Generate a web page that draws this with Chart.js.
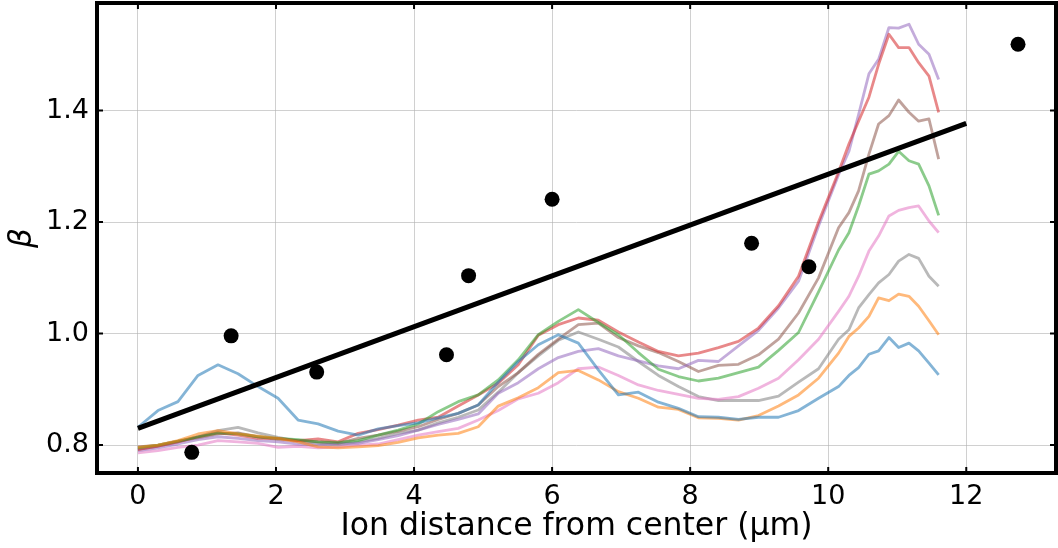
<!DOCTYPE html>
<html>
<head>
<meta charset="utf-8">
<script src="https://cdn.jsdelivr.net/npm/chart.js@4.4.0/dist/chart.umd.min.js"></script>
<style>
  html, body { margin: 0; padding: 0; background: #fff; }
</style>
</head>
<body>
<canvas id="chart" width="1058" height="548"></canvas>
<script>
// Shared x positions of the profile curves (um)
const xs = [0, 0.29, 0.58, 0.87, 1.16, 1.45, 1.74, 2.03, 2.32, 2.61, 2.9, 3.19, 3.48, 3.77, 4.06, 4.35,
  4.64, 4.93, 5.22, 5.51, 5.8, 6.09, 6.38, 6.67, 6.96, 7.25, 7.54, 7.83, 8.12, 8.41, 8.7, 8.99,
  9.28, 9.57, 9.86, 10.15, 10.3, 10.44, 10.59, 10.73, 10.88, 11.02, 11.17, 11.31, 11.46, 11.6];

// Profile curves
const blueY = [0.832, 0.862, 0.878, 0.925, 0.944, 0.928, 0.905, 0.884, 0.845, 0.838, 0.825, 0.818, 0.829, 0.835, 0.840, 0.849,
  0.857, 0.872, 0.913, 0.950, 0.980, 0.998, 0.983, 0.935, 0.890, 0.895, 0.877, 0.866, 0.851, 0.850, 0.846, 0.850,
  0.850, 0.862, 0.884, 0.905, 0.925, 0.939, 0.963, 0.969, 0.993, 0.975, 0.983, 0.969, 0.947, 0.926];
const orangeY = [0.796, 0.800, 0.808, 0.820, 0.826, 0.820, 0.816, 0.812, 0.806, 0.797, 0.795, 0.797, 0.799, 0.805, 0.813, 0.818,
  0.821, 0.833, 0.870, 0.885, 0.903, 0.930, 0.934, 0.917, 0.896, 0.884, 0.868, 0.864, 0.849, 0.848, 0.845, 0.853,
  0.870, 0.890, 0.920, 0.965, 0.995, 1.010, 1.031, 1.064, 1.059, 1.071, 1.067, 1.049, 1.023, 0.998];
const greenY = [0.795, 0.800, 0.807, 0.815, 0.822, 0.820, 0.815, 0.812, 0.810, 0.806, 0.805, 0.808, 0.818, 0.827, 0.838, 0.860,
  0.878, 0.890, 0.917, 0.953, 0.998, 1.022, 1.043, 1.020, 0.998, 0.966, 0.936, 0.923, 0.915, 0.920, 0.930, 0.940,
  0.970, 1.002, 1.075, 1.150, 1.181, 1.229, 1.286, 1.292, 1.304, 1.327, 1.310, 1.304, 1.265, 1.212];
const redY = [0.792, 0.798, 0.806, 0.815, 0.822, 0.818, 0.812, 0.812, 0.808, 0.811, 0.806, 0.821, 0.828, 0.836, 0.845, 0.850,
  0.870, 0.890, 0.911, 0.944, 0.997, 1.016, 1.028, 1.024, 1.003, 0.985, 0.968, 0.960, 0.965, 0.975, 0.986, 1.010,
  1.050, 1.103, 1.200, 1.290, 1.340, 1.381, 1.424, 1.483, 1.537, 1.513, 1.513, 1.486, 1.462, 1.397];
const purpleY = [0.790, 0.795, 0.802, 0.810, 0.815, 0.812, 0.808, 0.806, 0.802, 0.800, 0.803, 0.803, 0.810, 0.817, 0.827, 0.837,
  0.846, 0.856, 0.893, 0.912, 0.937, 0.957, 0.968, 0.973, 0.960, 0.951, 0.942, 0.937, 0.952, 0.950, 0.978, 1.006,
  1.046, 1.094, 1.193, 1.285, 1.327, 1.393, 1.466, 1.492, 1.549, 1.548, 1.555, 1.519, 1.501, 1.456];
const brownY = [0.797, 0.800, 0.807, 0.813, 0.820, 0.822, 0.815, 0.810, 0.808, 0.806, 0.803, 0.812, 0.818, 0.825, 0.833, 0.846,
  0.857, 0.872, 0.905, 0.930, 0.963, 0.990, 1.016, 1.019, 0.993, 0.978, 0.966, 0.950, 0.932, 0.943, 0.945, 0.962,
  0.990, 1.037, 1.100, 1.190, 1.217, 1.256, 1.322, 1.376, 1.391, 1.419, 1.397, 1.381, 1.385, 1.313];
const pinkY = [0.786, 0.790, 0.796, 0.800, 0.808, 0.806, 0.803, 0.796, 0.798, 0.795, 0.797, 0.800, 0.802, 0.810, 0.818, 0.824,
  0.830, 0.845, 0.862, 0.883, 0.893, 0.912, 0.937, 0.940, 0.925, 0.908, 0.898, 0.891, 0.884, 0.882, 0.887, 0.902,
  0.920, 0.953, 0.990, 1.040, 1.067, 1.103, 1.148, 1.175, 1.211, 1.221, 1.226, 1.229, 1.202, 1.181];
const grayY = [0.793, 0.798, 0.806, 0.815, 0.826, 0.832, 0.822, 0.814, 0.807, 0.803, 0.800, 0.806, 0.812, 0.821, 0.827, 0.840,
  0.850, 0.863, 0.895, 0.930, 0.960, 0.988, 1.003, 0.990, 0.976, 0.950, 0.925, 0.905, 0.887, 0.880, 0.880, 0.880,
  0.888, 0.913, 0.937, 0.990, 1.007, 1.046, 1.070, 1.091, 1.106, 1.130, 1.142, 1.135, 1.103, 1.085];

// Measured points and fitted line
const dotX = [0.78, 1.35, 2.59, 4.47, 4.79, 6.0, 8.89, 9.72, 12.75];
const dotY = [0.787, 0.996, 0.931, 0.962, 1.104, 1.241, 1.162, 1.120, 1.519];
const fitX = [0, 12];
const fitY = [0.83, 1.377];

// Axis ticks
const xTicks = [0, 2, 4, 6, 8, 10, 12];
const yTicks = [0.8, 1.0, 1.2, 1.4];

const curves = [blueY, orangeY, greenY, redY, purpleY, brownY, pinkY, grayY];
const curveColors = ['31,119,180', '255,127,14', '44,160,44', '214,39,40',
  '148,103,189', '140,86,75', '227,119,194', '127,127,127'];

const toPoints = (xArr, yArr) => xArr.map((x, i) => ({ x: x, y: yArr[i] }));

const datasets = curves.map((vals, k) => ({
  type: 'line',
  data: toPoints(xs, vals),
  borderColor: `rgba(${curveColors[k]}, 0.55)`,
  borderWidth: 2.8,
  borderJoinStyle: 'round',
  pointRadius: 0,
  fill: false,
  tension: 0,
  order: 3
}));

datasets.push({
  type: 'line',
  data: toPoints(fitX, fitY),
  borderColor: '#000',
  borderWidth: 5,
  pointRadius: 0,
  fill: false,
  order: 2
});

datasets.push({
  type: 'scatter',
  data: toPoints(dotX, dotY),
  backgroundColor: '#000',
  borderWidth: 0,
  pointRadius: 7.5,
  order: 1
});

// Box around the plot area with inward ticks on every side
const framePlugin = {
  id: 'frame',
  afterDatasetsDraw(chart) {
    const { ctx, chartArea: a, scales } = chart;
    ctx.save();
    ctx.strokeStyle = '#000';
    ctx.lineWidth = 2;
    xTicks.forEach(v => {
      const px = scales.x.getPixelForValue(v);
      ctx.beginPath();
      ctx.moveTo(px, a.bottom); ctx.lineTo(px, a.bottom - 6);
      ctx.moveTo(px, a.top); ctx.lineTo(px, a.top + 6);
      ctx.stroke();
    });
    yTicks.forEach(v => {
      const py = scales.y.getPixelForValue(v);
      ctx.beginPath();
      ctx.moveTo(a.left, py); ctx.lineTo(a.left + 6, py);
      ctx.moveTo(a.right, py); ctx.lineTo(a.right - 6, py);
      ctx.stroke();
    });
    ctx.lineWidth = 4;
    ctx.strokeRect(a.left, a.top, a.right - a.left, a.bottom - a.top);
    ctx.restore();
  }
};

const gridStyle = { color: 'rgba(176,176,176,0.6)', lineWidth: 1, drawTicks: false };

new Chart(document.getElementById('chart'), {
  type: 'scatter',
  data: { datasets: datasets },
  options: {
    responsive: false,
    animation: false,
    layout: { autoPadding: false, padding: { top: 3, right: 2, left: 0, bottom: 0 } },
    plugins: { legend: { display: false }, tooltip: { enabled: false } },
    scales: {
      x: {
        type: 'linear',
        min: -0.593,
        max: 13.3,
        afterBuildTicks: s => { s.ticks = xTicks.map(v => ({ value: v })); },
        afterFit: s => {
          s.height = 75;
          s.paddingLeft = 0;
          s.paddingRight = 0;
        },
        grid: gridStyle,
        border: { display: false },
        ticks: {
          color: '#000',
          padding: 8,
          font: { family: 'DejaVu Sans', size: 27 },
          callback: v => String(v)
        },
        title: {
          display: true,
          text: 'Ion distance from center (μm)',
          color: '#000',
          font: { family: 'DejaVu Sans', size: 31.5 },
          padding: { top: 0, bottom: 2 }
        }
      },
      y: {
        type: 'linear',
        min: 0.75,
        max: 1.593,
        afterBuildTicks: s => { s.ticks = yTicks.map(v => ({ value: v })); },
        afterFit: s => {
          s.width = 97;
          s.paddingTop = 0;
          s.paddingBottom = 0;
        },
        grid: gridStyle,
        border: { display: false },
        ticks: {
          color: '#000',
          padding: 8,
          font: { family: 'DejaVu Sans', size: 27 },
          callback: v => v.toFixed(1)
        },
        title: {
          display: true,
          text: 'β',
          color: '#000',
          font: { family: 'DejaVu Sans', size: 31, style: 'italic' },
          padding: { top: 4, bottom: 4 }
        }
      }
    }
  },
  plugins: [framePlugin]
});
</script>
</body>
</html>
